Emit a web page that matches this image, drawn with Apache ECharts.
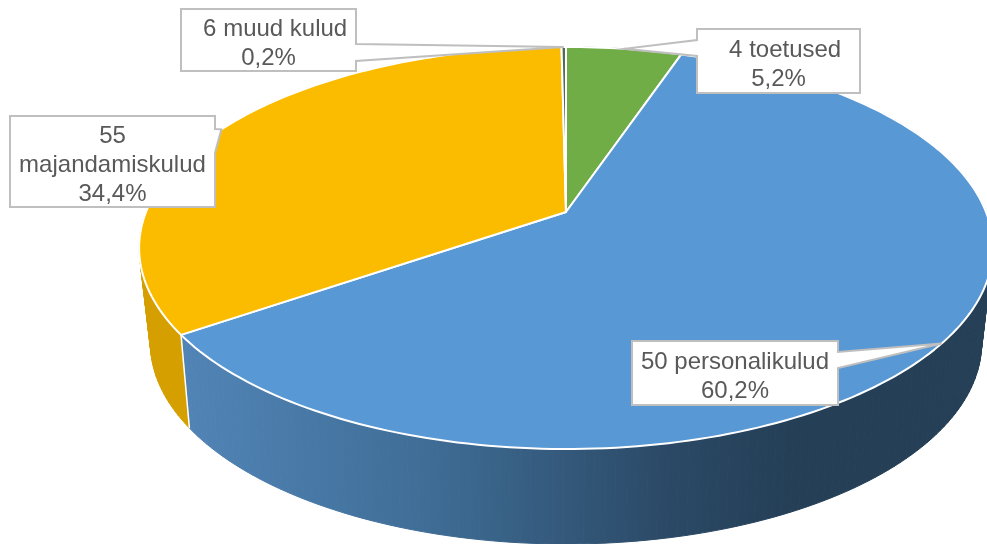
<!DOCTYPE html>
<html>
<head>
<meta charset="utf-8">
<style>
  html, body { margin: 0; padding: 0; background: #fff; }
  #chart { width: 987px; height: 544px; }
</style>
<script src="https://cdn.jsdelivr.net/npm/echarts@6/dist/echarts.min.js"></script>
</head>
<body>
<div id="chart"></div>
<script>
// andmed
const categories = ['4 toetused', '50 personalikulud', '55 majandamiskulud', '6 muud kulud']
const shares = [5.2, 60.2, 34.4, 0.2]
const labelLines = [['  4 toetused'], ['50 personalikulud'], ['55', 'majandamiskulud'], ['  6 muud kulud']]

const topColors = ['#70AD47', '#5898D4', '#FBBC00', '#55695A']

// label box [left, top, right, bottom] and the y span where the pointer leaves it
const labelBoxes = [
  { rect: [697, 29, 860, 93], side: 'left', span: [40, 56] },
  { rect: [632, 341, 838, 405], side: 'right', span: [352, 368] },
  { rect: [10, 116, 215, 207], side: 'right', span: [129, 153] },
  { rect: [181, 9, 356, 71], side: 'right', span: [44, 61] }
]

const total = shares.reduce((a, b) => a + b, 0)
let acc = 0
const pieData = categories.map((name, i) => {
  const row = { name, value: [shares[i], acc, i] }
  acc += shares[i]
  return row
})

// perspective of the pie disc, top face and bottom face
const CX = 566, CY = 212
const TOP_DISC = { rx: 420, ry: 194.6, k: -0.179, dy: 0 }
const LOW_DISC = { rx: 408, ry: 193.6, k: -0.19, dy: 93 }

const rimPoint = (pct, disc) => {
  const a = pct / total * Math.PI * 2
  const u = Math.sin(a), v = -Math.cos(a)
  const w = 1 + disc.k * v
  return [CX + disc.rx * u / w, CY + disc.dy + disc.ry * v / w]
}

const arc = (from, to, disc) => {
  const n = Math.max(2, Math.ceil((to - from) * 3))
  const pts = []
  for (let i = 0; i <= n; i++) pts.push(rimPoint(from + (to - from) * i / n, disc))
  return pts
}

const blueWall = new echarts.graphic.LinearGradient(185, 0, 790, 0, [
  { offset: 0, color: '#5184B6' },
  { offset: 0.4, color: '#3F6D96' },
  { offset: 0.8, color: '#2B4966' },
  { offset: 1, color: '#243F56' }
], true)
const wallFills = ['#4F7A33', blueWall, '#D69F00', '#3A483E']

// wall is swept as small quads so the silhouette at the far left/right is filled too
const renderWall = (params, api) => {
  const start = api.value(1), end = start + api.value(0)
  const fill = wallFills[api.value(2)]
  const upper = arc(start, end, TOP_DISC)
  const bottom = arc(start, end, LOW_DISC)
  const children = []
  for (let i = 0; i < upper.length - 1; i++) {
    children.push({
      type: 'polygon',
      shape: { points: [upper[i], upper[i + 1], bottom[i + 1], bottom[i]] },
      style: { fill, stroke: fill, lineWidth: 1 }
    })
  }
  children.push({
    type: 'line',
    shape: { x1: upper[0][0], y1: upper[0][1], x2: bottom[0][0], y2: bottom[0][1] },
    style: { stroke: '#fff', lineWidth: 1.5 },
    z2: 5
  })
  return { type: 'group', children }
}

const renderTop = (params, api) => {
  const start = api.value(1), end = start + api.value(0)
  return {
    type: 'polygon',
    shape: { points: [[CX, CY]].concat(arc(start, end, TOP_DISC)) },
    style: { fill: topColors[api.value(2)], stroke: '#fff', lineWidth: 2, lineJoin: 'round' }
  }
}

const renderLabel = (params, api) => {
  const i = api.value(2)
  const box = labelBoxes[i]
  const [l, t, r, b] = box.rect
  const tip = rimPoint(api.value(1) + api.value(0) / 2, TOP_DISC)
  const [s0, s1] = box.span
  const points = box.side === 'right'
    ? [[l, t], [r, t], [r, s0], tip, [r, s1], [r, b], [l, b]]
    : [[l, t], [r, t], [r, b], [l, b], [l, s1], tip, [l, s0]]
  const pct = api.value(0).toFixed(1).replace('.', ',') + '%'
  return {
    type: 'group',
    children: [
      {
        type: 'polygon',
        shape: { points },
        style: { fill: '#fff', stroke: '#BFBFBF', lineWidth: 2, lineJoin: 'miter' }
      },
      {
        type: 'text',
        style: {
          x: (l + r) / 2,
          y: (t + b) / 2 + 3.5,
          text: labelLines[i].concat(pct).join('\n'),
          fill: '#595959',
          font: '24px "Liberation Sans", Arial, sans-serif',
          lineHeight: 29,
          align: 'center',
          verticalAlign: 'middle'
        }
      }
    ]
  }
}

const chart = echarts.init(document.getElementById('chart'))
chart.setOption({
  animation: false,
  backgroundColor: '#fff',
  series: [
    { type: 'custom', name: 'wall', coordinateSystem: 'none', z: 1, silent: true, renderItem: renderWall, data: pieData },
    { type: 'custom', name: 'top', coordinateSystem: 'none', z: 2, silent: true, renderItem: renderTop, data: pieData },
    { type: 'custom', name: 'labels', coordinateSystem: 'none', z: 3, silent: true, renderItem: renderLabel, data: pieData }
  ]
})
</script>
</body>
</html>
